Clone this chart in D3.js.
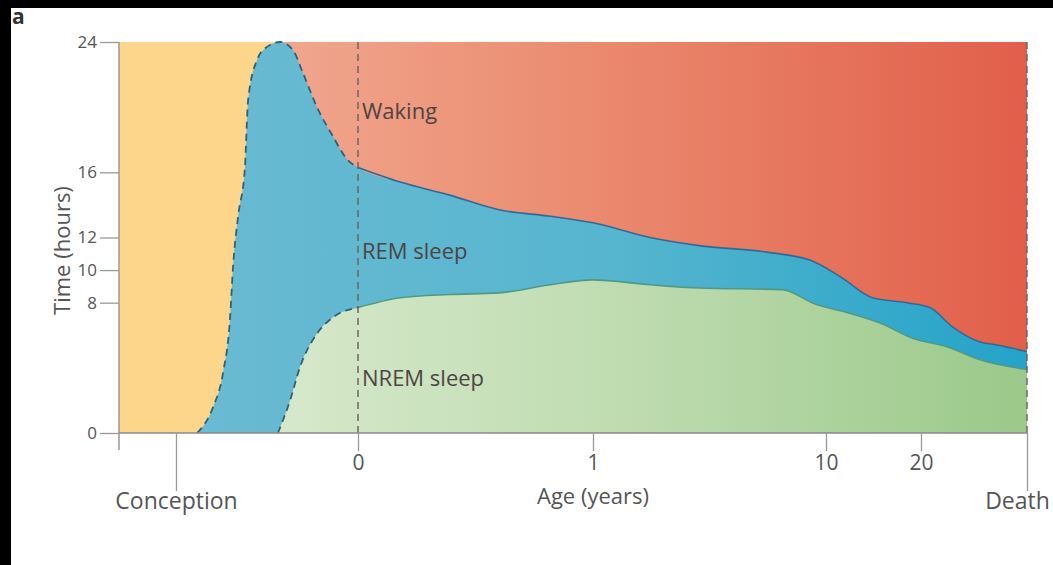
<!DOCTYPE html>
<html>
<head>
<meta charset="utf-8">
<script src="https://cdn.jsdelivr.net/npm/d3@7"></script>
<style>
  body { margin: 0; background: #fff; }
  text { font-family: "Open Sans", sans-serif; fill: #555; }
</style>
</head>
<body>
<svg id="chart" width="1053" height="565"></svg>
<script>
// total sleep (REM + NREM), hours per day, by age in years (negative = before birth)
const totalAges = [-0.663, -0.597, -0.556, -0.527, -0.515, -0.494, -0.466, -0.453, -0.416, -0.375, -0.321, -0.268, -0.227, -0.169, -0.103, -0.045, 0, 0.18, 0.39, 0.6, 0.82, 1, 3.2, 5.1, 7.7, 9.4, 11.5, 14.9, 18.5, 25, 38, 53, 63, 80];
const totalHours = [0, 1.6, 3.7, 7.1, 10.2, 13.3, 16.3, 20.4, 22.9, 23.7, 24, 23.5, 22.1, 20.0, 18.2, 16.8, 16.3, 15.4, 14.6, 13.7, 13.3, 12.9, 12.0, 11.5, 11.1, 10.6, 9.6, 8.3, 8.0, 7.7, 6.5, 5.6, 5.4, 5.0];

// NREM sleep, hours per day
const nremAges = [-0.33, -0.28, -0.239, -0.169, -0.103, 0, 0.18, 0.39, 0.6, 0.82, 1, 3.2, 5.1, 8.3, 9.6, 12.2, 15.7, 19.2, 34.7, 53.4, 80];
const nremHours = [0, 2.0, 4.05, 6.1, 7.1, 7.7, 8.3, 8.5, 8.6, 9.1, 9.4, 9.1, 8.9, 8.8, 7.9, 7.4, 6.75, 5.8, 5.3, 4.5, 3.9];

const yTicks = [0, 8, 10, 12, 16, 24];
const ageTicks = [0, 1, 10, 20];
const stageTicks = [-0.75, 80];
const stageLabels = ['Conception', 'Death'];
const regionNames = ['Waking', 'REM sleep', 'NREM sleep'];
const regionHours = [19.3, 10.7, 2.9];

const svg = d3.select('#chart');
const pLeft = 119, pRight = 1027, pTop = 42, pBottom = 433;

// age axis is stretched piecewise, like the original figure
const x = d3.scaleLinear()
    .domain([-1, -0.75, 0, 1, 10, 20, 80])
    .range([pLeft, 176, 358, 593, 826, 921, pRight]);
const y = d3.scaleLinear().domain([0, 24]).range([pBottom, pTop]);

const total = totalAges.map((a, i) => ({age: a, h: totalHours[i]}));
const nrem = nremAges.map((a, i) => ({age: a, h: nremHours[i]}));

const defs = svg.append('defs');
function grad(id, stops) {
    const g = defs.append('linearGradient')
        .attr('id', id)
        .attr('gradientUnits', 'userSpaceOnUse')
        .attr('x1', pLeft).attr('x2', pRight).attr('y1', 0).attr('y2', 0);
    stops.forEach(s => g.append('stop').attr('offset', s[0]).attr('stop-color', s[1]));
}
grad('wake', [[0.18, '#f0a68d'], [0.5, '#eb8c71'], [1, '#e15f4a']]);
grad('rem', [[0.1, '#69bad2'], [0.55, '#56b5cf'], [1, '#24a3c8']]);
grad('nrem', [[0.18, '#d6e8ca'], [0.55, '#bfdcb1'], [1, '#9bc98a']]);

// background: before the peak of total sleep it is yellow, after it waking
const peakAge = totalAges[d3.maxIndex(totalHours)];
svg.append('rect')
    .attr('x', pLeft).attr('y', pTop)
    .attr('width', x(peakAge) - pLeft).attr('height', pBottom - pTop)
    .attr('fill', '#fdd68b');
svg.append('rect')
    .attr('x', x(peakAge)).attr('y', pTop)
    .attr('width', pRight - x(peakAge)).attr('height', pBottom - pTop)
    .attr('fill', 'url(#wake)');

const area = d3.area()
    .x(d => x(d.age))
    .y0(y(0))
    .y1(d => y(d.h))
    .curve(d3.curveMonotoneX);
const line = d3.line()
    .x(d => x(d.age))
    .y(d => y(d.h))
    .curve(d3.curveMonotoneX);

svg.append('path').datum(total).attr('d', area).attr('fill', 'url(#rem)');
svg.append('path').datum(nrem).attr('d', area).attr('fill', 'url(#nrem)');

// edges: dashed before birth, solid after
svg.append('path').datum(total.filter(d => d.age <= 0)).attr('d', line)
    .attr('fill', 'none').attr('stroke', '#2f6275').attr('stroke-width', 1.8)
    .attr('stroke-dasharray', '7,5');
svg.append('path').datum(nrem.filter(d => d.age <= 0)).attr('d', line)
    .attr('fill', 'none').attr('stroke', '#2f6275').attr('stroke-width', 1.8)
    .attr('stroke-dasharray', '7,5');
svg.append('path').datum(total.filter(d => d.age >= 0)).attr('d', line)
    .attr('fill', 'none').attr('stroke', '#2f6a9a').attr('stroke-width', 1.6);
svg.append('path').datum(nrem.filter(d => d.age >= 0)).attr('d', line)
    .attr('fill', 'none').attr('stroke', '#4f9a86').attr('stroke-width', 1.6);

// birth and death markers
[0, 80].forEach(a => {
    svg.append('line')
        .attr('x1', x(a)).attr('x2', x(a))
        .attr('y1', pTop).attr('y2', pBottom)
        .attr('stroke', '#6a5f5c').attr('stroke-width', 1.4)
        .attr('stroke-dasharray', '7,5');
});

// y axis
const yAxis = svg.append('g')
    .attr('transform', `translate(${pLeft},0)`)
    .call(d3.axisLeft(y).tickValues(yTicks).tickSize(19).tickPadding(3));
yAxis.select('.domain').remove();
yAxis.selectAll('line').attr('stroke', '#999').attr('stroke-width', 1.3);
yAxis.selectAll('text').attr('font-size', 17).attr('fill', '#555')
    .attr('font-family', '"Open Sans", sans-serif');
svg.append('line')
    .attr('x1', pLeft).attr('x2', pLeft).attr('y1', pTop).attr('y2', pBottom + 17)
    .attr('stroke', '#999').attr('stroke-width', 1.5);

// x axis
svg.append('line')
    .attr('x1', pLeft).attr('x2', pRight).attr('y1', pBottom).attr('y2', pBottom)
    .attr('stroke', '#8a8a8a').attr('stroke-width', 1.5);
const xAxis = svg.append('g')
    .attr('transform', `translate(0,${pBottom})`)
    .call(d3.axisBottom(x).tickValues(ageTicks).tickSize(18).tickPadding(4)
        .tickFormat(d3.format('d')));
xAxis.select('.domain').remove();
xAxis.selectAll('line').attr('stroke', '#999').attr('stroke-width', 1.3);
xAxis.selectAll('text').attr('font-size', 21).attr('fill', '#555')
    .attr('font-family', '"Open Sans", sans-serif');

const stageAxis = svg.append('g')
    .attr('transform', `translate(0,${pBottom})`)
    .call(d3.axisBottom(x).tickValues(stageTicks).tickSize(58).tickPadding(2)
        .tickFormat((d, i) => stageLabels[i]));
stageAxis.select('.domain').remove();
stageAxis.selectAll('line').attr('stroke', '#999').attr('stroke-width', 1.3);
stageAxis.selectAll('text').attr('font-size', 23).attr('fill', '#555')
    .attr('font-family', '"Open Sans", sans-serif')
    .attr('dx', (d, i) => i === 1 ? -10 : 0);

svg.append('text')
    .attr('x', x(1)).attr('y', 504)
    .attr('text-anchor', 'middle')
    .attr('font-size', 22)
    .text('Age (years)');

svg.append('text')
    .attr('transform', `translate(70,${y(11.2)}) rotate(-90)`)
    .attr('text-anchor', 'middle')
    .attr('font-size', 22)
    .text('Time (hours)');

// region labels
svg.selectAll('.region')
    .data(regionNames)
    .enter()
    .append('text')
        .classed('region', true)
        .attr('x', x(0) + 4)
        .attr('y', (d, i) => y(regionHours[i]))
        .attr('font-size', 22)
        .style('fill', '#4e4444')
        .text(d => d);

// frame of the original scan
svg.append('rect').attr('x', 0).attr('y', 0).attr('width', 1053).attr('height', 8).attr('fill', '#000');
svg.append('rect').attr('x', 0).attr('y', 0).attr('width', 11).attr('height', 565).attr('fill', '#000');
svg.append('text')
    .attr('x', 12).attr('y', 24)
    .attr('font-size', 21).attr('font-weight', 'bold')
    .style('fill', '#333')
    .text('a');
</script>
</body>
</html>
